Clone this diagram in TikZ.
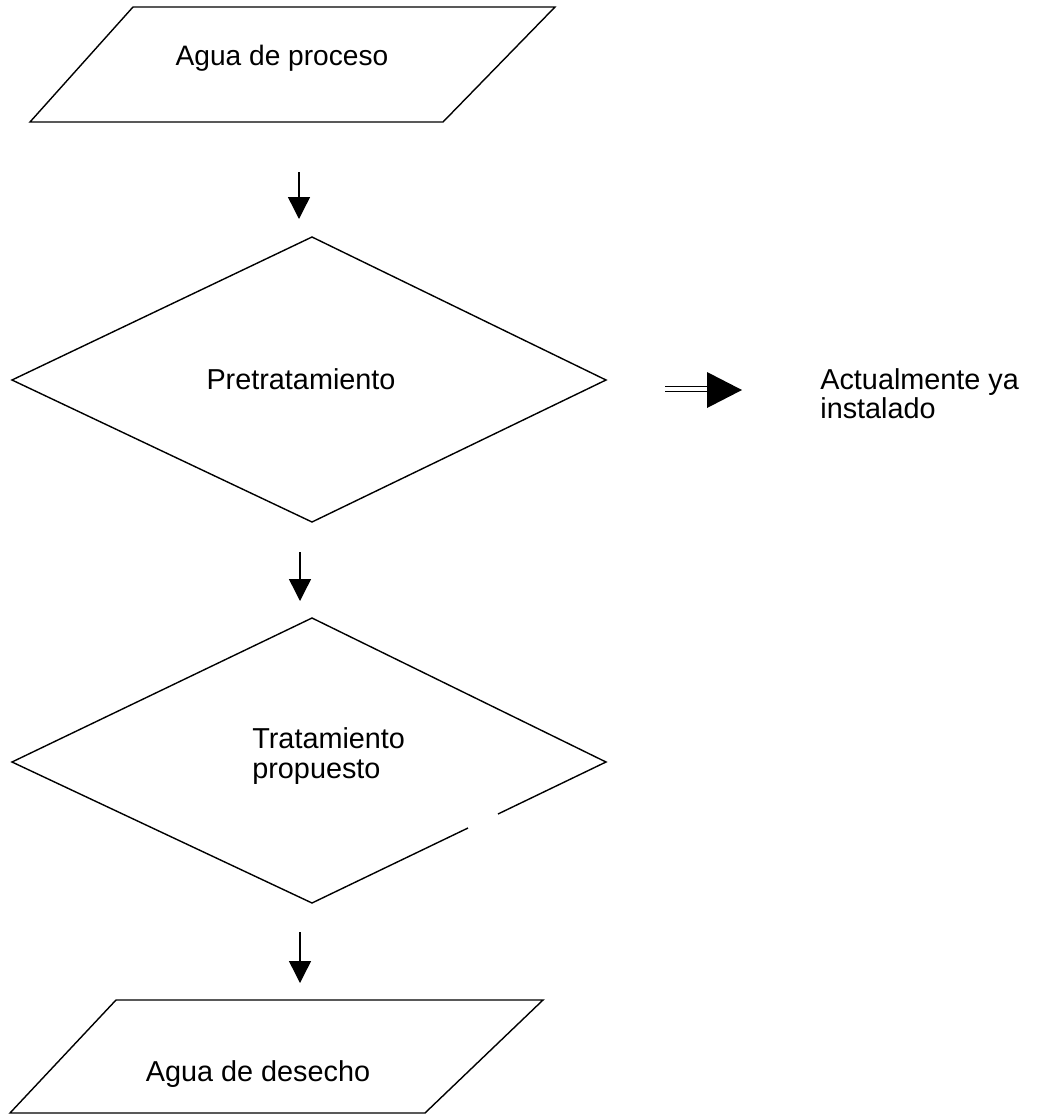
\documentclass[tikz,border=0pt]{standalone}
\usepackage{fontspec}
\setmainfont{Liberation Sans}
\usetikzlibrary{arrows.meta}
\begin{document}
\begin{tikzpicture}[x=0.02cm,y=-0.02cm,
  shapeline/.style={line width=0.8pt,line join=miter},
  lbl/.style={font=\fontsize{16.4}{16.6}\selectfont,inner sep=0pt},
  flow/.style={line width=0.8pt,-{Triangle[width=12.5pt,length=12.5pt]}}]
\useasboundingbox (0,0) rectangle (1046,1116);
% top parallelogram
\draw[shapeline] (133,7) -- (555,7) -- (443,122) -- (30,122) -- cycle;
\node[lbl,font=\fontsize{16}{16.6}\selectfont] (in) at (282,58) {Agua de proceso};
% diamond 1
\draw[shapeline] (312,237) -- (606,380) -- (312,522) -- (12,380) -- cycle;
\node[lbl] (pre) at (301,379) {Pretratamiento};
% diamond 2 (with gap on lower right edge)
\draw[shapeline] (468,828) -- (312,903) -- (12,762) -- (312,618) -- (606,762) -- (498,814);
\node[lbl,align=left,anchor=west] (tra) at (252,756) {Tratamiento\\propuesto};
% bottom parallelogram
\draw[shapeline] (116,1000) -- (543,1000) -- (425,1113) -- (10,1113) -- cycle;
\node[lbl] (out) at (258,1074) {Agua de desecho};
% flow arrows
\coordinate (a1s) at (299,172); \coordinate (a1e) at (299,219);
\coordinate (a2s) at (300,552); \coordinate (a2e) at (300,601);
\coordinate (a3s) at (300,932); \coordinate (a3e) at (300,983);
\draw[flow] (a1s) -- (a1e);
\draw[flow] (a2s) -- (a2e);
\draw[flow] (a3s) -- (a3e);
% double arrow
\coordinate (d1) at (665,389); \coordinate (d2) at (707,389); \coordinate (d3) at (742,390);
\draw[line width=0.6pt,double,double distance=2.6pt] (d1) -- (d2);
\fill (707,372) -- (d3) -- (707,408) -- cycle;
\node[lbl,anchor=west,align=left] (note) at (820,394) {Actualmente ya\\instalado};
\end{tikzpicture}
\end{document}
